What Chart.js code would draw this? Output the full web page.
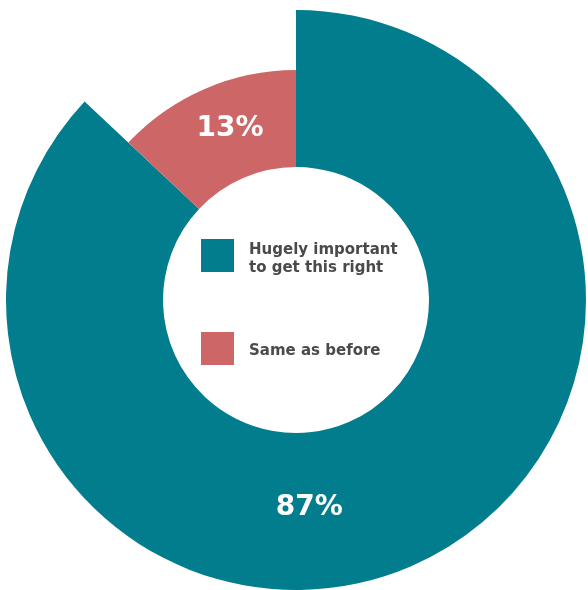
<!DOCTYPE html>
<html>
<head>
<meta charset="utf-8">
<script src="https://cdn.jsdelivr.net/npm/chart.js@4/dist/chart.umd.min.js"></script>
<style>
  html, body { margin: 0; padding: 0; background: #fff; }
  #wrap { width: 588px; height: 590px; }
</style>
</head>
<body>
<div id="wrap"><canvas id="importanceChart"></canvas></div>
<script>
var labels = ['Hugely important to get this right', 'Same as before'];
var legendLines = [['Hugely important', 'to get this right'], ['Same as before']];
var values = [87, 13];
var colors = ['#027D8E', '#CD6667'];

// outer radius per slice, the small slice sits lower than the big one
var sliceRadius = {
    id: 'sliceRadius',
    beforeDatasetsDraw: function (chart, args, opts) {
        var meta = chart.getDatasetMeta(0);
        meta.data.forEach(function (arc, i) {
            arc.outerRadius = arc.outerRadius * opts.scale[i];
        });
    },
    afterDatasetsDraw: function (chart, args, opts) {
        var meta = chart.getDatasetMeta(0);
        meta.data.forEach(function (arc, i) {
            arc.outerRadius = arc.outerRadius / opts.scale[i];
        });
    }
};

// percentage labels on the slices
var sliceLabels = {
    id: 'sliceLabels',
    afterDatasetsDraw: function (chart, args, opts) {
        var ctx = chart.ctx;
        var meta = chart.getDatasetMeta(0);
        var total = values.reduce(function (a, b) { return a + b; }, 0);
        ctx.save();
        ctx.fillStyle = '#fff';
        ctx.font = 'bold 28px "DejaVu Sans"';
        ctx.textAlign = 'center';
        ctx.textBaseline = 'middle';
        meta.data.forEach(function (arc, i) {
            var p = opts.place[i];
            var a = arc.startAngle + (arc.endAngle - arc.startAngle) * p.along;
            var outer = arc.outerRadius * sliceRadius_scale(chart, i);
            var r = arc.innerRadius + (outer - arc.innerRadius) * p.depth;
            var txt = Math.round(values[i] / total * 100) + '%';
            ctx.fillText(txt, arc.x + Math.cos(a) * r, arc.y + Math.sin(a) * r);
        });
        ctx.restore();
    }
};

function sliceRadius_scale(chart, i) {
    return chart.options.plugins.sliceRadius.scale[i];
}

// legend drawn inside the hole
var centerLegend = {
    id: 'centerLegend',
    afterDraw: function (chart) {
        var ctx = chart.ctx;
        var arc = chart.getDatasetMeta(0).data[0];
        var cx = arc.x, cy = arc.y;
        var rows = [cy - 61, cy + 32];
        ctx.save();
        ctx.font = 'bold 15px "DejaVu Sans"';
        ctx.textBaseline = 'alphabetic';
        ctx.textAlign = 'left';
        legendLines.forEach(function (lines, i) {
            var top = rows[i];
            ctx.fillStyle = colors[i];
            ctx.fillRect(cx - 95, top, 33, 33);
            ctx.fillStyle = '#4a4a4a';
            var base = lines.length > 1 ? top + 15 : top + 23;
            lines.forEach(function (line, j) {
                ctx.fillText(line, cx - 47, base + j * 17.5);
            });
        });
        ctx.restore();
    }
};

var ctx = document.getElementById('importanceChart').getContext('2d');
new Chart(ctx, {
    type: 'doughnut',
    data: {
        labels: labels,
        datasets: [{
            data: values,
            backgroundColor: colors,
            borderWidth: 0,
            hoverOffset: 0
        }]
    },
    options: {
        responsive: true,
        maintainAspectRatio: false,
        animation: false,
        events: [],
        cutout: 133,
        layout: { padding: { top: 10, bottom: 0, left: 6, right: 2 } },
        plugins: {
            legend: { display: false },
            tooltip: { enabled: false },
            sliceRadius: { scale: [1, 230 / 290] },
            sliceLabels: { place: [{ along: 0.563, depth: 0.48 }, { along: 0.55, depth: 0.52 }] }
        }
    },
    plugins: [sliceRadius, sliceLabels, centerLegend]
});
</script>
</body>
</html>
